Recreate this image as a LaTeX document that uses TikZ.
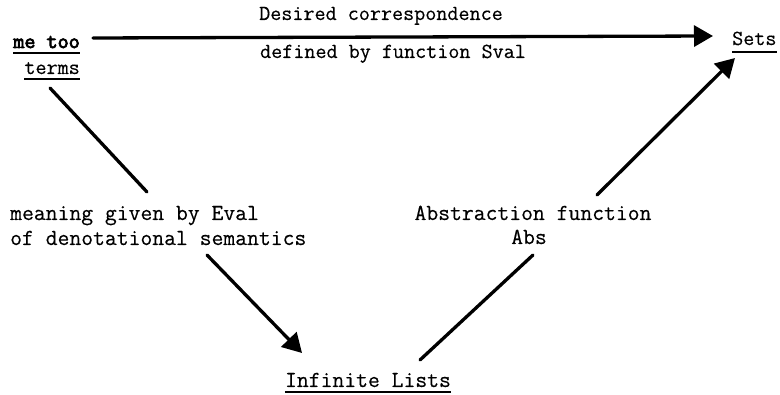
\documentclass[tikz,border=0pt]{standalone}
\usepackage{fontspec}
\setmonofont{Latin Modern Mono}[FakeBold=0.35]
\newfontfamily\boldtt{Latin Modern Mono}[FakeBold=3.5]
\usetikzlibrary{arrows.meta}
\tikzset{
  lbl/.style={inner sep=0pt, font=\ttfamily\fontsize{23}{25}\selectfont},
  tlbl/.style={inner sep=0pt, font=\ttfamily\fontsize{21.5}{25}\selectfont},
  blbl/.style={inner sep=0pt, font=\boldtt\fontsize{21.5}{25}\selectfont},
  conn/.style={line width=3.3pt, line cap=round},
  arr/.style={conn, -{Triangle[length=19pt,width=21pt]}},
  ulline/.style={line width=1.6pt},
}
\begin{document}
\begin{tikzpicture}[x=1pt,y=-1pt]
\useasboundingbox (0,0) rectangle (780,395);
% nodes
\node[blbl, anchor=base east] (metoo) at (80,48) {me too};
\node[tlbl, anchor=base east] (terms) at (80,74) {terms};
\node[tlbl, anchor=base west] (sets) at (732,45) {Sets};
\node[lbl, anchor=base] (inf) at (368,387) {Infinite Lists};
\node[tlbl, anchor=base] (desired) at (381,20) {Desired correspondence};
\node[tlbl, anchor=base] (sval) at (393,58) {defined by function Sval};
\node[lbl, anchor=base west] (eval1) at (10,220) {meaning given by Eval};
\node[lbl, anchor=base west] (eval2) at (10,245) {of denotational semantics};
\node[lbl, anchor=base] (abs1) at (533,220) {Abstraction function};
\node[lbl, anchor=base] (abs2) at (529,244) {Abs};
% underlines
\draw[ulline] ([yshift=-5pt]metoo.base west) -- ([yshift=-5pt]metoo.base east);
\draw[ulline] ([yshift=-5pt]terms.base west) -- ([yshift=-5pt]terms.base east);
\draw[ulline] ([yshift=-7pt]sets.base west) -- ([yshift=-7pt]sets.base east);
\draw[ulline] ([yshift=-5pt]inf.base west) -- ([yshift=-5pt]inf.base east);
% connector end points
\coordinate (h0) at (93,38);
\coordinate (h1) at (713,36);
\coordinate (e0) at (50,88);
\coordinate (e1) at (147,192);
\coordinate (e2) at (207,255);
\coordinate (e3) at (302,353);
\coordinate (a0) at (420,360);
\coordinate (a1) at (533,255);
\coordinate (a2) at (597,195);
\coordinate (a3) at (735,58);
% connectors
\draw[arr] (h0) -- (h1);
\draw[conn] (e0) -- (e1);
\draw[arr] (e2) -- (e3);
\draw[conn] (a0) -- (a1);
\draw[arr] (a2) -- (a3);
\end{tikzpicture}
\end{document}
